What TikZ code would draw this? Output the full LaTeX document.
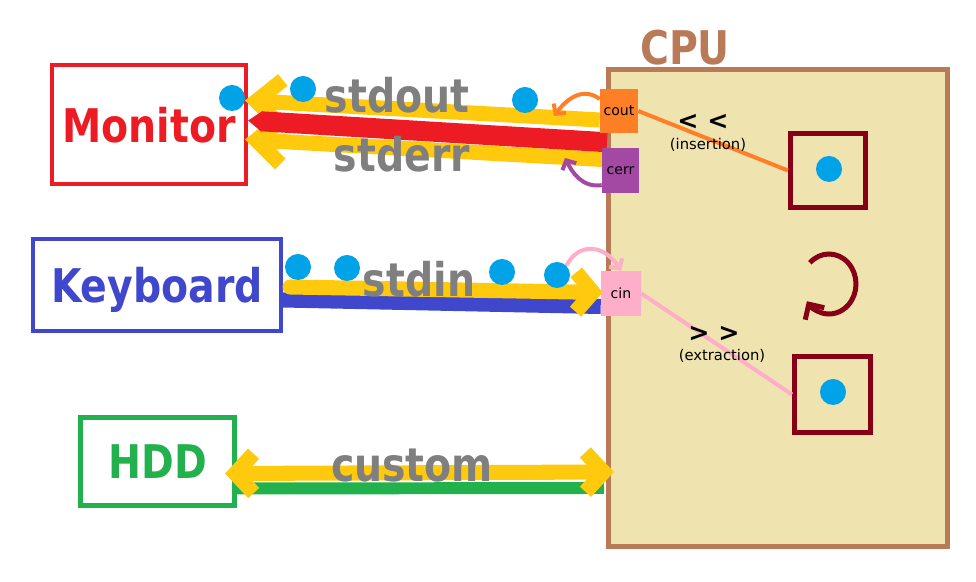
\documentclass[tikz,border=0pt]{standalone}
\usepackage{fontspec}
\setmainfont{DejaVu Sans}
\newfontfamily\bigfont{DejaVu Sans}[FakeStretch=0.85]
\usetikzlibrary{arrows.meta,calc,backgrounds}
\definecolor{monitorred}{HTML}{ED1C24}
\definecolor{keyboardblue}{HTML}{3F48CC}
\definecolor{hddgreen}{HTML}{22B14C}
\definecolor{streamyellow}{HTML}{FFC90E}
\definecolor{coutorange}{HTML}{FF7F27}
\definecolor{cerrpurple}{HTML}{A349A4}
\definecolor{cinpink}{HTML}{FFAEC9}
\definecolor{dotblue}{HTML}{00A2E8}
\definecolor{varred}{HTML}{880015}
\definecolor{cpubrown}{HTML}{B97A57}
\definecolor{cpucream}{HTML}{EFE4B0}
\definecolor{streamgray}{HTML}{7F7F7F}
\begin{document}
\begin{tikzpicture}[x=0.025cm,y=-0.025cm,
    devbox/.style={draw=#1,text=#1,inner sep=0pt,text depth=0pt,font=\bigfont\bfseries\fontsize{33}{36}\selectfont},
    biglabel/.style={font=\bigfont\bfseries\fontsize{33}{36}\selectfont,inner sep=0pt},
    portbox/.style={fill=#1,inner sep=0pt,font=\fontsize{10}{12}\selectfont},
    varbox/.style={draw=varred,line width=3.56pt,inner sep=0pt},
    dot/.style={circle,fill=dotblue,minimum size=0.65cm,inner sep=0pt},
    oplabel/.style={font=\bfseries\fontsize{18}{20}\selectfont,inner sep=0pt},
    opname/.style={font=\fontsize{10.5}{12}\selectfont,inner sep=0pt},
    band/.style={line width=10.7pt},
    thin/.style={line width=2.85pt}]
  \useasboundingbox (0,0) rectangle (976,582);

  % Drawing the boxes under the streams
  \begin{scope}[on background layer]
    % Drawing box Monitor
    \node[devbox=monitorred, line width=2.85pt, minimum width=4.85cm, minimum height=2.975cm] (monitor) at (149,124.5) {Monitor};
    % Drawing box Keyboard
    \node[devbox=keyboardblue, line width=2.85pt, minimum width=6.2cm, minimum height=2.3cm] (keyboard) at (157,285) {Keyboard};
    % Drawing box HDD
    \node[devbox=hddgreen, line width=3.9pt, minimum width=3.84cm, minimum height=2.19cm] (hdd) at (157.5,461.5) {HDD};
    % Drawing box CPU
    \node[draw=cpubrown, fill=cpucream, line width=3.56pt, minimum width=8.475cm, minimum height=11.925cm] (cpu) at (778,308) {};
    % Drawing the two variables
    \node[varbox, minimum width=1.875cm, minimum height=1.85cm] (outvar) at (828,170.5) {};
    \node[varbox, minimum width=1.9cm, minimum height=1.9cm] (invar) at (832.5,394.5) {};
  \end{scope}

  % Marking ports cout, cerr, cin
  \node[portbox=coutorange, minimum width=0.95cm, minimum height=1.1cm] (cout) at (619,111) {cout};
  \node[portbox=cerrpurple, minimum width=0.925cm, minimum height=1.125cm] (cerr) at (620.5,170.5) {cerr};
  \node[portbox=cinpink, minimum width=1cm, minimum height=1.125cm] (cin) at (621,293.5) {cin};

  % Drawing the streams
  \begin{scope}[on background layer]
    % stdout and stderr to Monitor
    \draw[band, streamyellow, -{Straight Barb[length=18pt,width=32pt]}] ($(cout.west)+(0,9)$) -- ($(monitor.east)+(-3,-24)$);
    \draw[band, streamyellow, -{Straight Barb[length=18pt,width=32pt]}] ($(cerr.west)+(1,-11)$) -- ($(monitor.east)+(-3,15)$);
    \draw[monitorred, line width=14.2pt, -{Triangle[length=10pt,width=14.2pt]}] ($(cout.south)+(-12,9)$) -- ($(monitor.east)+(0,-4)$);
    % stdin from Keyboard
    \draw[band, keyboardblue] ($(keyboard.east)+(0,15)$) -- ($(cin.west)+(0,13)$);
    \draw[band, streamyellow, line cap=round, -{Straight Barb[length=12pt,width=28pt]}] ($(keyboard.east)+(7,2)$) -- ($(cin.west)+(2,-1)$);
    % custom between HDD and CPU
    \draw[hddgreen, line width=8.5pt] ($(hdd.east)+(-2,27)$) -- ($(cpu.west)+(-2,180)$);
    \draw[band, streamyellow, {Straight Barb[length=13pt,width=28pt]}-{Straight Barb[length=13pt,width=28pt]}] ($(hdd.east)+(-12,12)$) -- ($(cpu.west)+(8,164)$);
  \end{scope}

  % Marking the points on the streams
  \node[dot] (dot1) at (232,98) {};
  \node[dot] (dot2) at (303,89) {};
  \node[dot] (dot3) at (525,100) {};
  \node[dot] (dot4) at (298,267) {};
  \node[dot] (dot5) at (347,268) {};
  \node[dot] (dot6) at (502,272) {};
  \node[dot] (dot7) at (557,275) {};
  \node[dot] (outdot) at (829,169) {};
  \node[dot] (indot) at (833,392) {};

  % Marking the stream names
  \node[biglabel, text=streamgray, anchor=base] (stdoutlabel) at (397,113) {stdout};
  \node[biglabel, text=streamgray, anchor=base] (stderrlabel) at (402,172) {stderr};
  \node[biglabel, text=streamgray, anchor=base] (stdinlabel) at (419,297) {stdin};
  \node[biglabel, text=streamgray, anchor=base] (customlabel) at (412,482) {custom};
  \node[biglabel, text=cpubrown, anchor=base] (cpulabel) at (685,65) {CPU};

  % Drawing the operators
  \draw[coutorange, thin] (cout.east) -- (outvar.west);
  \draw[cinpink, thin] (cin.east) -- (invar.west);
  \node[oplabel] (inop) at (703,122) {< <};
  \node[opname] (insertion) at (708,145) {(insertion)};
  \node[oplabel] (exop) at (714,334) {> >};
  \node[opname] (extraction) at (722,356) {(extraction)};

  % Drawing the small back arrows
  \coordinate (coutback) at (554,116);
  \coordinate (cerrback) at (565,158);
  \draw[coutorange, thin, -{Straight Barb[length=5pt,width=11pt]}] (cout.148) .. controls (582,86) and (566,100) .. (coutback);
  \draw[cerrpurple, thin, -{Straight Barb[length=5pt,width=11pt]}] (cerr.218) .. controls (582,188) and (572,172) .. (cerrback);
  \draw[cinpink, thin, -{Straight Barb[length=5pt,width=11pt]}] (dot7.45) .. controls (578,243) and (603,243) .. (cin.north);

  % Drawing the loop in the CPU
  \draw[varred, line width=3.56pt, -{Straight Barb[length=8pt,width=16pt]}] (829,284) ++(225:27 and 30) arc[start angle=225, end angle=505, x radius=27, y radius=30];
\end{tikzpicture}
\end{document}
